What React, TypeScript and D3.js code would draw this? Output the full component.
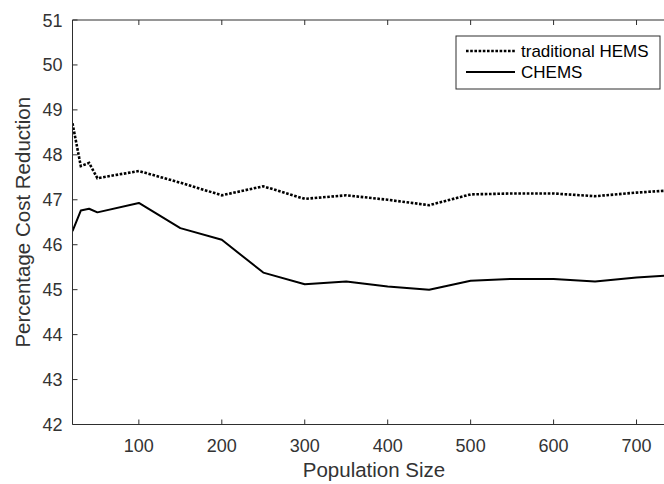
import React from "react";
import * as d3 from "d3";

const populationSizes = [20, 30, 40, 50, 100, 150, 200, 250, 300, 350, 400, 450, 500, 550, 600, 650, 700, 750];
const traditionalHEMS = [48.7, 47.75, 47.82, 47.48, 47.64, 47.38, 47.1, 47.3, 47.02, 47.1, 47.0, 46.88, 47.12, 47.14, 47.14, 47.08, 47.16, 47.22];
const chems = [46.3, 46.76, 46.8, 46.72, 46.93, 46.37, 46.11, 45.38, 45.12, 45.18, 45.07, 45.0, 45.2, 45.24, 45.24, 45.18, 45.27, 45.33];
const xTicks = [100, 200, 300, 400, 500, 600, 700];
const yTicks = [42, 43, 44, 45, 46, 47, 48, 49, 50, 51];
const seriesNames = ["traditional HEMS", "CHEMS"];

const W = 664;
const H = 484;
const L = 72.5;
const R = 678;
const T = 20;
const B = 424.5;
const axisColor = "#2e2e2e";
const textColor = "#333";
const font = "'Liberation Sans', Arial, Helvetica, sans-serif";

export default function App() {
  const x = d3.scaleLinear().domain([20, 750]).range([L, R]);
  const y = d3.scaleLinear().domain([42, 51]).range([B, T]);
  const line = d3
    .line<number>()
    .x((_, i) => x(populationSizes[i]))
    .y((d) => y(d));

  return (
    <svg
      width={W}
      height={H}
      style={{ position: "absolute", left: 0, top: 0, background: "#fff" }}
      fontFamily={font}
    >
      <defs>
        <clipPath id="plot">
          <rect x={L} y={T} width={R - L} height={B - T} />
        </clipPath>
      </defs>
      <rect x={0} y={0} width={W} height={H} fill="#fff" />
      <g clipPath="url(#plot)">
        <path d={line(chems) || ""} fill="none" stroke="#000" strokeWidth={2} strokeLinejoin="round" />
        <path
          d={line(traditionalHEMS) || ""}
          fill="none"
          stroke="#000"
          strokeWidth={2.6}
          strokeDasharray="2.6,1.6"
        />
      </g>
      <path
        d={`M${L},${T}V${B}H${R}V${T}Z`}
        fill="none"
        stroke={axisColor}
        strokeWidth={1}
      />
      {xTicks.map((t) => (
        <g key={"x" + t}>
          <line x1={x(t)} x2={x(t)} y1={B} y2={B - 5} stroke={axisColor} />
          <line x1={x(t)} x2={x(t)} y1={T} y2={T + 5} stroke={axisColor} />
          <text x={x(t)} y={451.5} textAnchor="middle" fontSize={18} fill={textColor}>
            {t}
          </text>
        </g>
      ))}
      {yTicks.map((t) => (
        <g key={"y" + t}>
          <line x1={L} x2={L + 5} y1={y(t)} y2={y(t)} stroke={axisColor} />
          <text x={L - 10} y={y(t) + 6.5} textAnchor="end" fontSize={18} fill={textColor}>
            {t}
          </text>
        </g>
      ))}
      <text x={374} y={477} textAnchor="middle" fontSize={20.5} fill={textColor}>
        Population Size
      </text>
      <text
        transform={`translate(30,${(T + B) / 2}) rotate(-90)`}
        textAnchor="middle"
        fontSize={20.5}
        fill={textColor}
      >
        Percentage Cost Reduction
      </text>
      <rect x={456} y={36} width={204} height={53} fill="#fff" stroke={axisColor} strokeWidth={1} />
      <line x1={466} x2={515} y1={51} y2={51} stroke="#000" strokeWidth={2.6} strokeDasharray="2.6,1.6" />
      <line x1={466} x2={515} y1={72} y2={72} stroke="#000" strokeWidth={2} />
      <text x={521} y={56.5} fontSize={17} fill="#000">
        {seriesNames[0]}
      </text>
      <text x={521} y={77.5} fontSize={17} fill="#000">
        {seriesNames[1]}
      </text>
    </svg>
  );
}
